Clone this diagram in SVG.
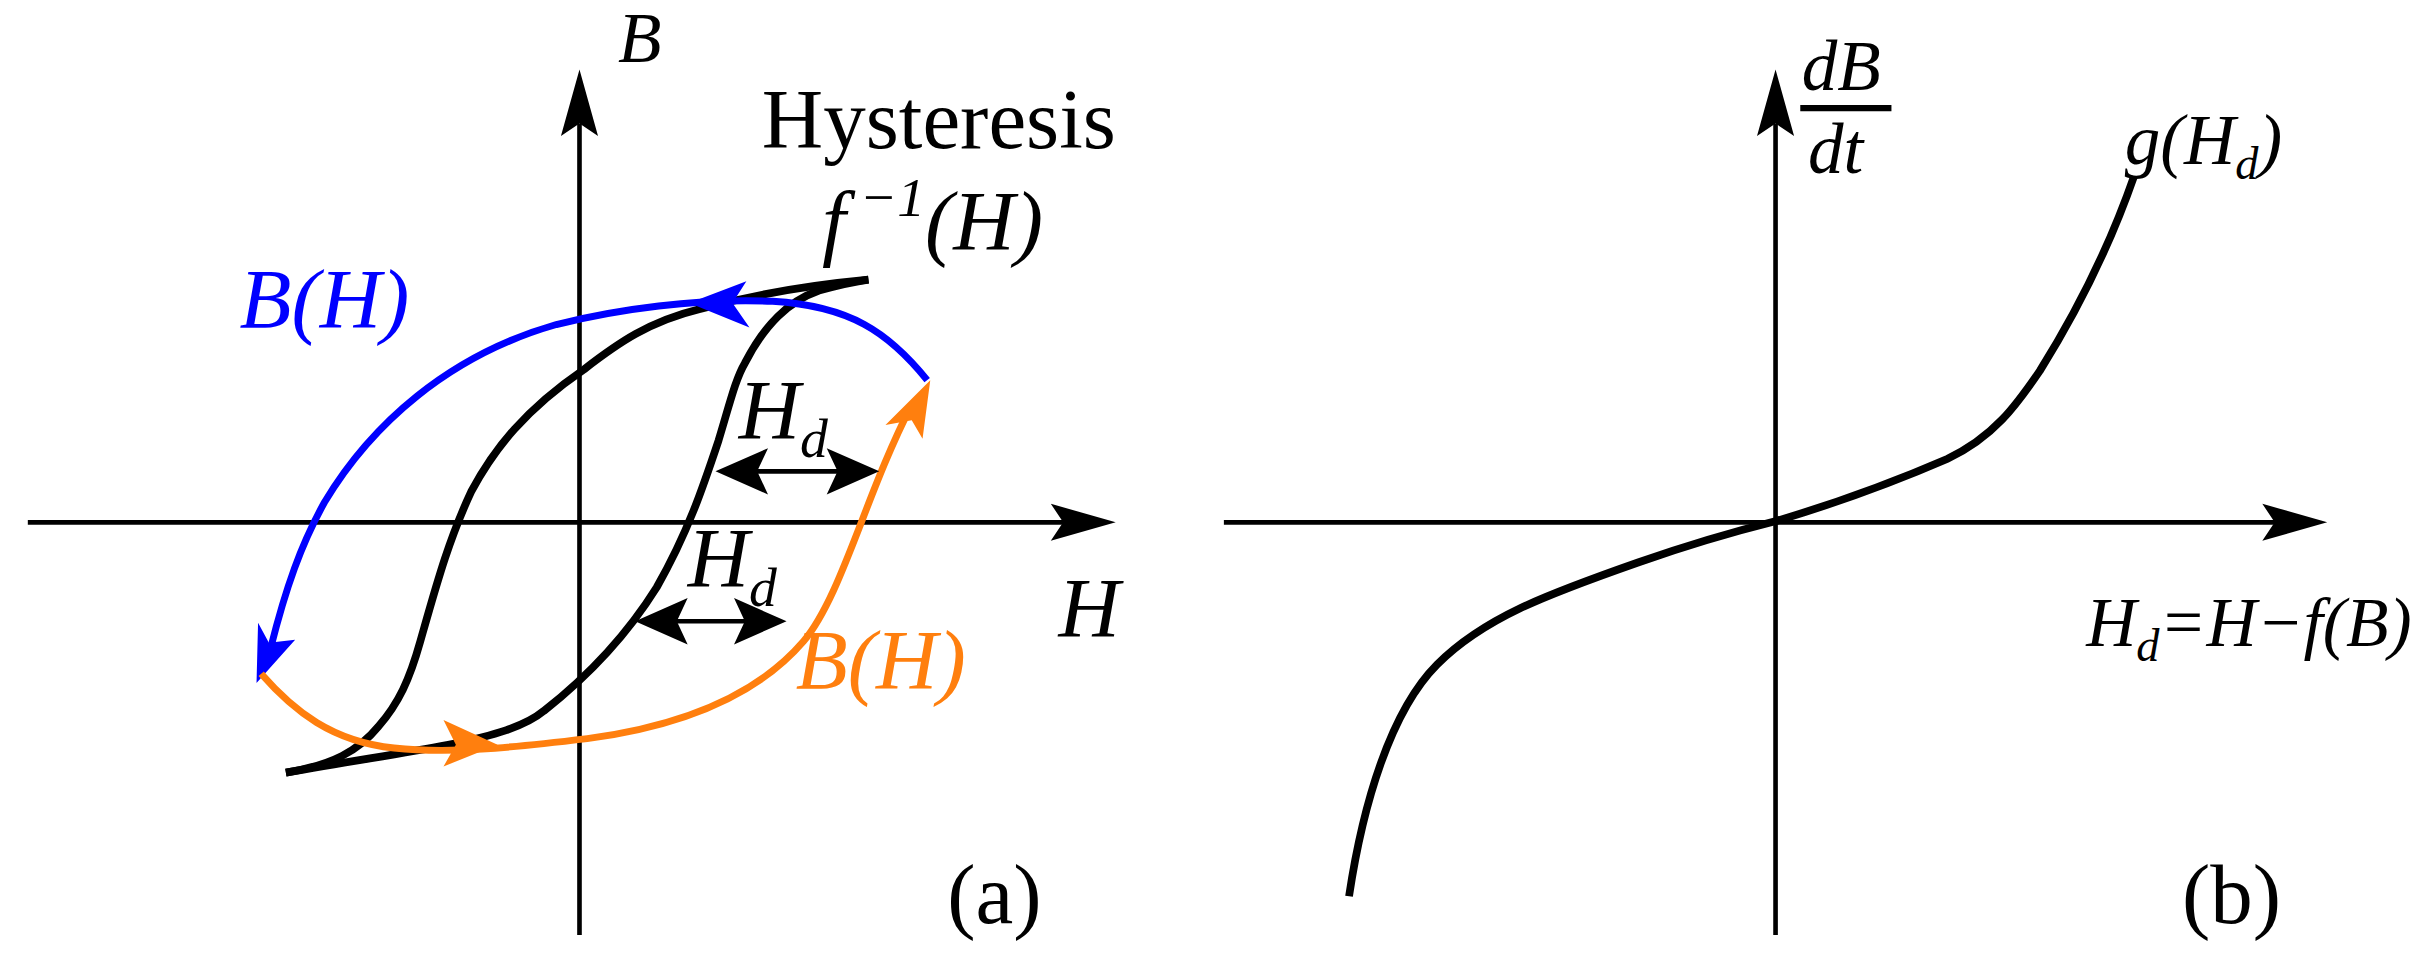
<svg xmlns="http://www.w3.org/2000/svg" width="2423" height="961" viewBox="0 0 2423 961">
<defs>
<style>
.ax{stroke:#000;stroke-width:3;fill:none}
.cv{stroke:#000;stroke-width:5;fill:none;stroke-linejoin:round}
.bl{stroke:#0000ff;stroke-width:4.5;fill:none}
.or{stroke:#ff7f0e;stroke-width:4.5;fill:none}
text{font-family:"Liberation Serif",serif;font-size:55px}
.i{font-style:italic}
.s{font-size:36px}
.m{font-size:46px}
.ss{font-size:30px}
</style>
</defs>
<rect width="2423" height="961" fill="#fff"/>
<g transform="scale(1.5453)">
<g id="axes-a">
<line class="ax" x1="375" y1="605" x2="375" y2="80"/>
<polygon points="375,45 363,88 375,80 387,88"/>
<line class="ax" x1="18" y1="338" x2="690" y2="338"/>
<polygon points="722,338 680,326 688,338 680,350"/>
</g>
<g id="loop">
<path class="cv" d="M185,500 C215,495 232,486 245,470 C258,455 265,440 272,415 C282,380 290,350 305,318 C320,290 340,265 378,239 C400,222 420,208 453,200 C490,190 530,184 562,181"/>
<path class="cv" d="M185,500 C230,492 258,488 290,482 C320,476 340,470 352,460 C380,438 405,412 425,380 C445,345 455,315 465,285 C472,262 476,245 482,235 C495,210 510,195 530,188 C545,184 555,182 562,181"/>
</g>
<g id="connectors">
<path class="bl" d="M600,246 C575,215 550,198 500,195 C450,193 400,200 360,210 C290,230 240,275 210,325 C195,352 185,380 175,420"/>
<polygon fill="#0000ff" points="446,196 483,182 474,196 485,212"/>
<polygon fill="#0000ff" points="166,442 167,403 174,416 191,414"/>
<path class="or" d="M169,436 C190,460 215,480 255,484 C290,488 330,484 380,478 C440,470 490,450 520,415 C545,385 560,320 590,262"/>
<polygon fill="#ff7f0e" points="602,246 597,284 590,272 573,275"/>
<polygon fill="#ff7f0e" points="322,482 287,496 295,482 287,466"/>
<g stroke="#000" stroke-width="3">
<line x1="478" y1="305" x2="555" y2="305"/>
<line x1="426" y1="402" x2="494" y2="402"/>
</g>
<polygon points="463,305 497,290 490,305 497,320"/>
<polygon points="569,305 535,290 542,305 535,320"/>
<polygon points="411,402 445,387 438,402 445,417"/>
<polygon points="509,402 475,387 482,402 475,417"/>
</g>
<g id="labels-a">
<text class="i m" x="400" y="40">B</text>
<text x="493" y="96">Hysteresis</text>
<text class="i" x="532" y="162">f<tspan class="s" dy="-22"> −1</tspan><tspan dy="22">(H)</tspan></text>
<text class="i" x="155" y="212" fill="#0000ff">B(H)</text>
<text class="i" x="478" y="284">H<tspan class="s" dy="12">d</tspan></text>
<text class="i" x="445" y="380">H<tspan class="s" dy="12">d</tspan></text>
<text class="i" x="685" y="412">H</text>
<text class="i" x="515" y="446" fill="#ff7f0e">B(H)</text>
<text x="613" y="597">(a)</text>
</g>
<g id="axes-b">
<line class="ax" x1="1149" y1="605" x2="1149" y2="80"/>
<polygon points="1149,45 1137,88 1149,80 1161,88"/>
<line class="ax" x1="792" y1="338" x2="1475" y2="338"/>
<polygon points="1506,338 1464,326 1472,338 1464,350"/>
</g>
<g id="curve-b">
<path class="cv" d="M873,580 C882,520 900,460 930,430 C960,400 1000,385 1060,364 C1100,350 1130,342 1150,337 C1190,325 1230,310 1260,297 C1290,283 1305,262 1320,240 C1345,200 1365,160 1381,114"/>
</g>
<g id="labels-b">
<text class="i m" x="1166" y="58">dB</text>
<line x1="1165" y1="70" x2="1224" y2="70" stroke="#000" stroke-width="4"/>
<text class="i m" x="1170" y="112">dt</text>
<text class="i m" x="1375" y="106">g(H<tspan class="ss" dy="10">d</tspan><tspan dy="-10">)</tspan></text>
<text class="i" x="1350" y="418" style="font-size:45px">H<tspan class="ss" dy="10">d</tspan><tspan dy="-10">=H−f(B)</tspan></text>
<text x="1412" y="597">(b)</text>
</g>
</g>
</svg>
